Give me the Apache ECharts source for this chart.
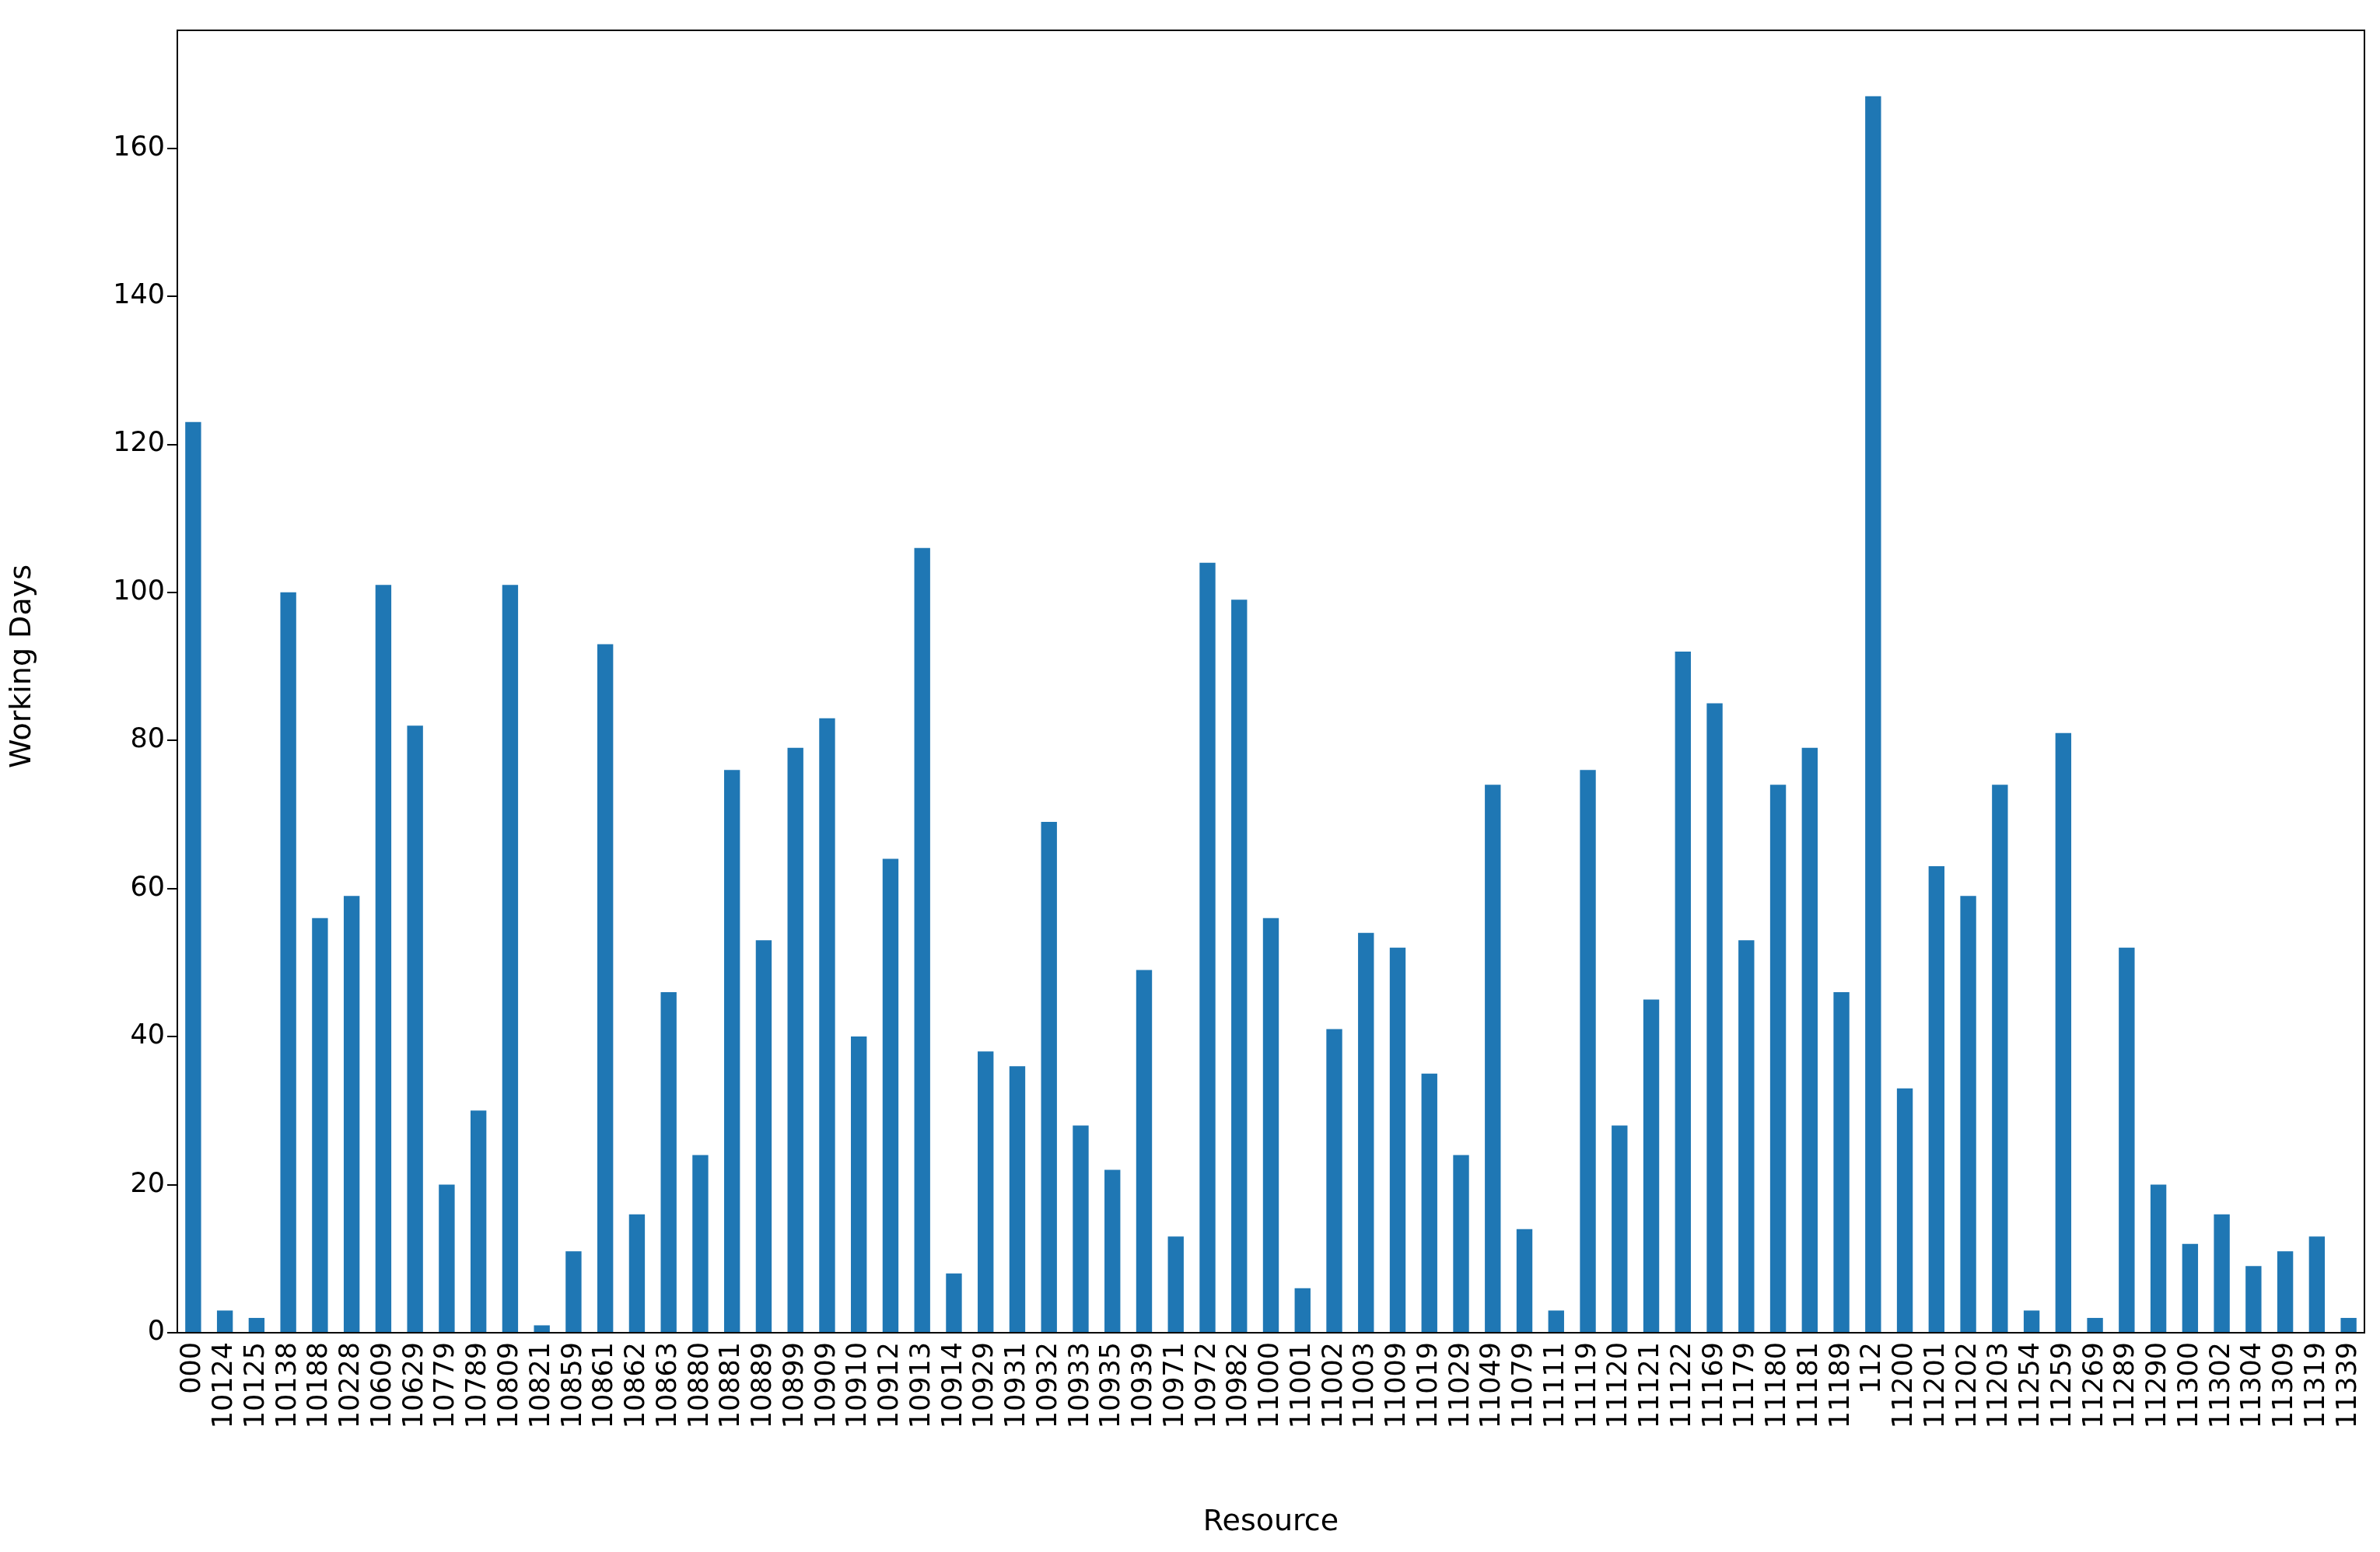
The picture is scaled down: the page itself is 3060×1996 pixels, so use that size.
<!DOCTYPE html>
<html><head><meta charset="utf-8">
<script src="https://cdn.jsdelivr.net/npm/echarts@6/dist/echarts.min.js"></script>
<style>html,body{margin:0;padding:0;background:#fff}#c{width:3060px;height:1996px}</style>
</head><body><div id="c"></div>
<script>
const categories = ["000","10124","10125","10138","10188","10228","10609","10629","10779","10789","10809","10821","10859","10861","10862","10863","10880","10881","10889","10899","10909","10910","10912","10913","10914","10929","10931","10932","10933","10935","10939","10971","10972","10982","11000","11001","11002","11003","11009","11019","11029","11049","11079","11111","11119","11120","11121","11122","11169","11179","11180","11181","11189","112","11200","11201","11202","11203","11254","11259","11269","11289","11290","11300","11302","11304","11309","11319","11339"];
const workingDays = [123,3,2,100,56,59,101,82,20,30,101,1,11,93,16,46,24,76,53,79,83,40,64,106,8,38,36,69,28,22,49,13,104,99,56,6,41,54,52,35,24,74,14,3,76,28,45,92,85,53,74,79,46,167,33,63,59,74,3,81,2,52,20,12,16,9,11,13,2];
const yTicks = [0,20,40,60,80,100,120,140,160];
const chart = echarts.init(document.getElementById('c'));
const F = 'DejaVu Sans';
chart.setOption({
  animation:false,
  grid:{left:228,right:20,top:-1,bottom:282,containLabel:false},
  xAxis:{type:'category',data:categories,boundaryGap:true,
    name:'Resource',nameLocation:'middle',nameGap:225,nameTextStyle:{fontFamily:F,fontSize:38,color:'#000'},
    axisLine:{lineStyle:{color:'#000',width:2}},
    axisTick:{alignWithLabel:true,length:13,lineStyle:{color:'#000',width:2}},
    axisLabel:{rotate:90,interval:0,fontFamily:F,fontSize:35,color:'#000',margin:12},
    splitLine:{show:false}},
  yAxis:{type:'value',min:0,max:180,interval:20,
    name:'Working Days',nameLocation:'middle',nameGap:180,nameTextStyle:{fontFamily:F,fontSize:38,color:'#000'},
    axisLine:{show:true,lineStyle:{color:'#000',width:2}},
    axisTick:{show:true,length:13,lineStyle:{color:'#000',width:2}},
    axisLabel:{fontFamily:F,fontSize:35,color:'#000',margin:16,
      formatter:v=>yTicks.includes(v)?String(v):''},
    splitLine:{show:false}},
  series:[{type:'bar',data:workingDays,barWidth:'50%',itemStyle:{color:'#1f77b4'}}]
});
chart.setOption({graphic:[
  {type:'rect',shape:{x:150,y:0,width:200,height:38},style:{fill:'#fff'},silent:true,z:100},
  {type:'rect',shape:{x:228,y:39,width:3060-228-20,height:1714-39},style:{fill:'none',stroke:'#000',lineWidth:2},silent:true,z:101}
]});
</script></body></html>
